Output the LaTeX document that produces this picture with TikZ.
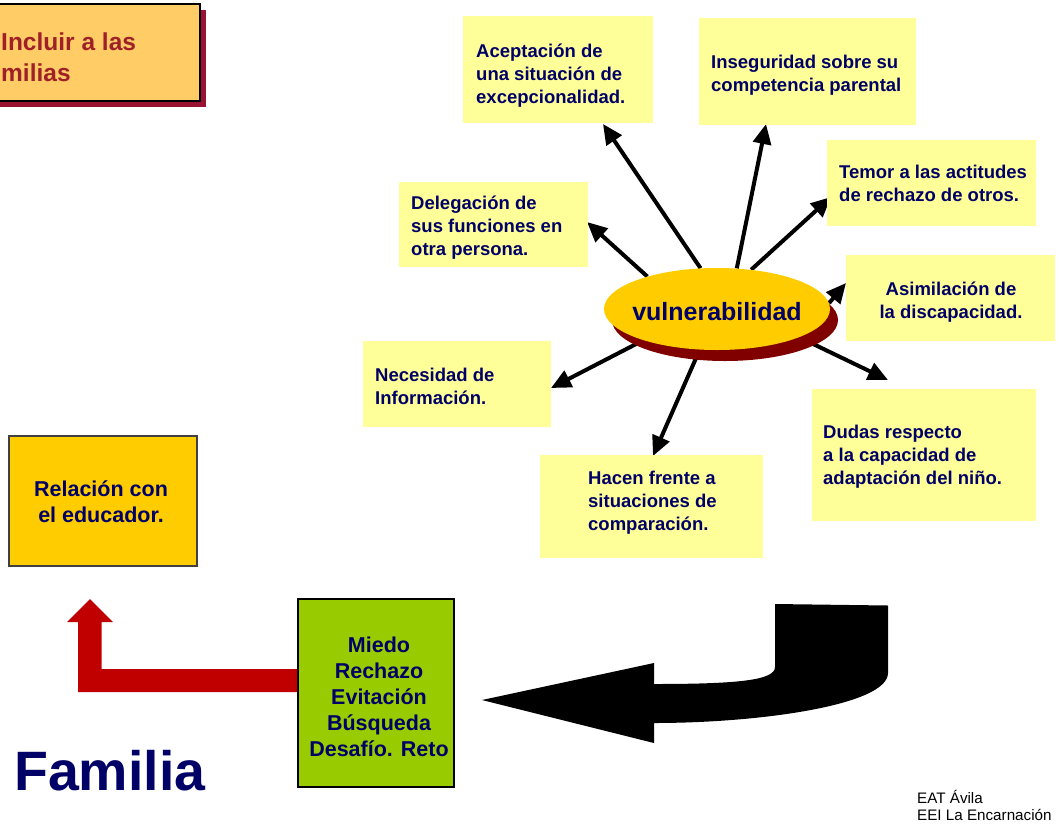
\documentclass[tikz,border=0pt]{standalone}
\usepackage{fontspec}
\setmainfont{Liberation Sans}
\usetikzlibrary{arrows.meta,shapes.geometric,backgrounds}
\definecolor{navy}{RGB}{0,0,102}
\definecolor{boxyellow}{RGB}{255,255,153}
\definecolor{gold}{RGB}{255,204,0}
\definecolor{lightorange}{RGB}{255,204,102}
\definecolor{crimson}{RGB}{153,17,51}
\definecolor{brickred}{RGB}{160,32,40}
\definecolor{maroon}{RGB}{128,0,0}
\definecolor{redarrow}{RGB}{192,0,0}
\definecolor{leafgreen}{RGB}{153,204,0}
\begin{document}
\begin{tikzpicture}[x=1pt,y=-1pt,
  ybox/.style={fill=boxyellow, draw=none, inner sep=0pt, anchor=north west},
  txt/.style={font=\bfseries\fontsize{18.5}{23}\selectfont, text=navy, align=left, inner sep=0pt, anchor=base west},
  ctxt/.style={font=\bfseries\fontsize{18.5}{23}\selectfont, text=navy, align=center, inner sep=0pt, anchor=base},
  bigtxt/.style={font=\bfseries\fontsize{21.5}{26}\selectfont, text=navy, align=center, inner sep=0pt, anchor=base},
  arr/.style={line width=4pt, -{Triangle[length=20pt,width=18pt]}}]
\clip (0,0) rectangle (1059,825);

% top-left box
\fill[crimson] (-20,10) rectangle (206,107);
\node[fill=lightorange, draw=black, line width=1.5pt, inner sep=0pt, anchor=north west,
      minimum width=219, minimum height=97] (incl) at (-20,3) {};
\node[font=\bfseries\fontsize{24.5}{31.5}\selectfont, text=brickred, align=left,
      inner sep=0pt, anchor=base west] (incltxt) at (1,81.5) {Incluir a las\\milias};

% yellow boxes
\node[ybox, minimum width=190, minimum height=107] (acep) at (463,16) {};
\node[ybox, minimum width=217, minimum height=107] (inseg) at (699,18) {};
\node[ybox, minimum width=189, minimum height=85] (deleg) at (399,182) {};
\node[ybox, minimum width=209, minimum height=86] (temor) at (827,140) {};
\node[ybox, minimum width=209, minimum height=86] (asim) at (846,255) {};
\node[ybox, minimum width=188, minimum height=86] (neces) at (363,341) {};
\node[ybox, minimum width=223, minimum height=103] (hacen) at (540,455) {};
\node[ybox, minimum width=224, minimum height=132] (dudas) at (812,389) {};

\node[txt] (aceptxt) at (476,103) {Aceptación de\\una situación de\\excepcionalidad.};
\node[txt] (insegtxt) at (711,91) {Inseguridad sobre su\\competencia parental};
\node[txt] (delegtxt) at (411,255) {Delegación de\\sus funciones en\\otra persona.};
\node[txt] (temortxt) at (839,201) {Temor a las actitudes\\de rechazo de otros.};
\node[ctxt] (asimtxt) at (951,318) {Asimilación de\\la discapacidad.};
\node[txt] (necestxt) at (375,404) {Necesidad de\\Información.};
\node[txt] (hacentxt) at (588,530) {Hacen frente a\\situaciones de\\comparación.};
\node[txt] (dudastxt) at (823,484) {Dudas respecto\\a la capacidad de\\adaptación del niño.};

% central ellipse
\node[ellipse, fill=maroon, minimum width=226, minimum height=82, inner sep=0pt] (vshadow) at (725,320) {};
\node[ellipse, fill=gold, minimum width=226, minimum height=82, inner sep=0pt] (v) at (717,309) {};
\node[font=\bfseries\fontsize{25}{30}\selectfont, text=navy, inner sep=0pt, anchor=base] (vtxt) at (717,320.5) {vulnerabilidad};

% arrow tips
\coordinate (tAcep) at (603,124);
\coordinate (tInseg) at (766,124);
\coordinate (tTemor) at (831,197);
\coordinate (tDeleg) at (587,222);
\coordinate (tAsim) at (846,283);
\coordinate (tNeces) at (551,388);
\coordinate (tHacen) at (653,456);
\coordinate (tDudas) at (888,380);

\begin{scope}[on background layer]
\draw[arr] (v.112.5) -- (tAcep);
\draw[arr] (v.64) -- (tInseg);
\draw[arr] (v.49) -- (tTemor);
\draw[arr] (v.155) -- (tDeleg);
\draw[arr] (v.3.7) -- (tAsim);
\draw[arr] (v.203) -- (tNeces);
\draw[arr] (v.247.5) -- (tHacen);
\draw[arr] (v.341) -- (tDudas);
\end{scope}

% bottom left
\node[fill=gold, draw=black!75, line width=1.5pt, inner sep=0pt, anchor=north west,
      minimum width=188, minimum height=130] (rel) at (8,435) {};
\node[bigtxt] (reltxt) at (101,522) {Relación con\\el educador.};

\node[fill=leafgreen, draw=black, line width=1.5pt, inner sep=0pt, anchor=north west,
      minimum width=156, minimum height=188] (green) at (297,598) {};
\node[bigtxt] (greentxt) at (379,756) {Miedo\\Rechazo\\Evitación\\Búsqueda\\Desafío. Reto};

% red arrow from green box up to relacion box
\fill[redarrow] (green.west |- 0,692) -- (78,692) -- (78,622) -- (67,622) -- (90,599)
  -- (113,622) -- (101.5,622) -- (101.5,669) -- (green.west |- 0,669) -- cycle;

% black curved arrow
\fill[black] (482,700) -- (654,663) -- (654,684)
  .. controls (740,684) and (775,680) .. (775,667) -- (775,604) -- (888,605.5)
  -- (888,673) .. controls (888,705) and (760,723) .. (654,723) -- (654,743) -- cycle;

\node[font=\bfseries\fontsize{55.5}{60}\selectfont, text=navy, inner sep=0pt, anchor=base west] (fam) at (14,790.5) {Familia};

\node[font=\fontsize{15.2}{17}\selectfont, text=black, align=left, inner sep=0pt, anchor=base west] (foot) at (917,820) {EAT Ávila\\EEI La Encarnación};
\end{tikzpicture}
\end{document}
